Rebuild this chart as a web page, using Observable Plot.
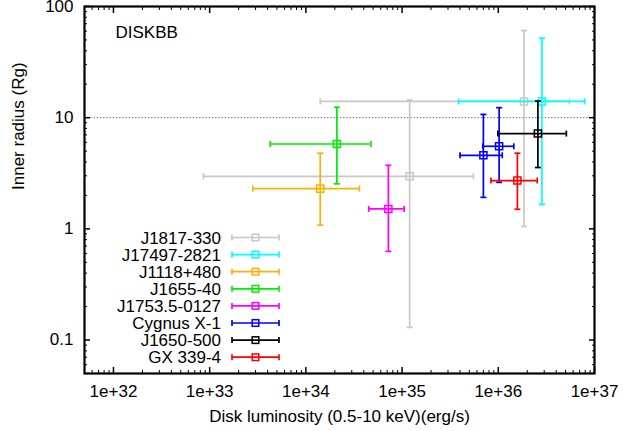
<!DOCTYPE html>
<html><head><meta charset="utf-8">
<script src="https://cdn.jsdelivr.net/npm/d3@7"></script>
<script src="https://cdn.jsdelivr.net/npm/@observablehq/plot@0.6"></script>
<style>
html,body{margin:0;padding:0;background:#fff;}
#chart{position:relative;width:623px;height:431px;font-family:"Liberation Sans",Arial,sans-serif;}
#legend{position:absolute;left:0;top:0;pointer-events:none;}
</style></head><body><div id="chart"></div>
<script>
// ---- data ----
const sources = ["J1817-330","J17497-2821","J1118+480","J1655-40","J1753.5-0127","Cygnus X-1","J1650-500","GX 339-4"];
const colors  = ["#c8c8c8","#00ffff","#ffb000","#00ee00","#ff00ff","#0000ff","#000000","#ff0000"];
const pointSource = ["J1817-330","J1817-330","J17497-2821","J1118+480","J1655-40","J1753.5-0127","Cygnus X-1","Cygnus X-1","J1650-500","GX 339-4"];
const lum   = [1.85e36, 1.2e35, 2.84e36, 1.41e34, 2.1e34, 7.2e34, 7.0e35, 1.02e36, 2.58e36, 1.58e36];
const lumLo = [1.41e34, 8.6e32, 3.86e35, 2.81e33, 4.26e33, 4.5e34, 4.0e35, 6.9e35, 9.9e35, 8.4e35];
const lumHi = [5.5e36, 5.5e35, 7.9e36, 3.6e34, 4.74e34, 1.05e35, 1.1e36, 1.45e36, 5.1e36, 2.54e36];
const rin   = [14.0, 2.97, 14.0, 2.3, 5.8, 1.51, 4.59, 5.53, 7.2, 2.72];
const rinLo = [1.05, 0.13, 1.66, 1.08, 2.54, 0.627, 1.92, 2.62, 3.56, 1.5];
const rinHi = [60.8, 14.4, 52, 4.79, 12.4, 3.73, 10.7, 12.3, 14.1, 4.79];
const xTicks = [1e32, 1e33, 1e34, 1e35, 1e36, 1e37];
const xTickLabels = ["1e+32","1e+33","1e+34","1e+35","1e+36","1e+37"];
const yTicks = [0.1, 1, 10, 100];
const yTickLabels = ["0.1","1","10","100"];
const refLine = [10];
const title = "DISKBB";
const xLabel = "Disk luminosity (0.5-10 keV)(erg/s)";
const yLabel = "Inner radius (Rg)";

// ---- build ----
const xDomain = [5e31, 1e37], yDomain = [0.05, 100];
const minorTicks = (lo, hi, k0, k1) => {
  const out = [];
  for (let k = k0; k <= k1; k++) for (let m = 2; m <= 9; m++) { const v = m * Math.pow(10, k); if (v > lo * 1.0001 && v < hi * 0.9999) out.push(v); }
  return out;
};
const xMinor = minorTicks(xDomain[0], xDomain[1], 31, 36);
const yMinor = minorTicks(yDomain[0], yDomain[1], -2, 1);
const xLabMap = new Map(xTicks.map((t, i) => [t, xTickLabels[i]]));
const yLabMap = new Map(yTicks.map((t, i) => [t, yTickLabels[i]]));

const pts = pointSource.map((s, i) => ({source: s, x: lum[i], xlo: lumLo[i], xhi: lumHi[i], y: rin[i], ylo: rinLo[i], yhi: rinHi[i]}));
const capV = {draw(ctx) { ctx.moveTo(0, -3); ctx.lineTo(0, 3); }};
const capH = {draw(ctx) { ctx.moveTo(-3, 0); ctx.lineTo(3, 0); }};
const lw = 1.7;

const pointMarks = [];
for (const p of pts) {
  const d = [p];
  pointMarks.push(
    Plot.ruleY(d, {y: "y", x1: "xlo", x2: "xhi", stroke: "source", strokeWidth: lw}),
    Plot.ruleX(d, {x: "x", y1: "ylo", y2: "yhi", stroke: "source", strokeWidth: lw}),
    Plot.dot(d, {x: "xlo", y: "y", symbol: capV, r: 3, stroke: "source", fill: "none", strokeWidth: lw}),
    Plot.dot(d, {x: "xhi", y: "y", symbol: capV, r: 3, stroke: "source", fill: "none", strokeWidth: lw}),
    Plot.dot(d, {x: "x", y: "ylo", symbol: capH, r: 3, stroke: "source", fill: "none", strokeWidth: lw}),
    Plot.dot(d, {x: "x", y: "yhi", symbol: capH, r: 3, stroke: "source", fill: "none", strokeWidth: lw}),
    Plot.dot(d, {x: "x", y: "y", symbol: "square", r: 4, stroke: "source", fill: "none", strokeWidth: 1.5})
  );
}

const blank = () => "";
const chart = Plot.plot({
  width: 623, height: 431,
  marginLeft: 84, marginRight: 29, marginTop: 6, marginBottom: 58,
  style: {fontFamily: "'Liberation Sans', Arial, sans-serif", fontSize: "17px", color: "black", background: "white"},
  x: {type: "log", domain: xDomain},
  y: {type: "log", domain: yDomain},
  color: {domain: sources, range: colors},
  marks: [
    Plot.ruleY(refLine, {stroke: "#555", strokeDasharray: "1.2,2", strokeWidth: 1}),
    ...pointMarks,
    // ticks (inward, mirrored)
    Plot.axisX(xTicks, {anchor: "bottom", tickSize: -6, strokeWidth: 1.5, tickFormat: blank, label: null}),
    Plot.axisX(xTicks, {anchor: "top", tickSize: -6, strokeWidth: 1.5, tickFormat: blank, label: null}),
    Plot.axisX(xMinor, {anchor: "bottom", tickSize: -3, tickFormat: blank, label: null}),
    Plot.axisX(xMinor, {anchor: "top", tickSize: -3, tickFormat: blank, label: null}),
    Plot.axisY(yTicks, {anchor: "left", tickSize: -6, strokeWidth: 1.5, tickFormat: blank, label: null}),
    Plot.axisY(yTicks, {anchor: "right", tickSize: -6, strokeWidth: 1.5, tickFormat: blank, label: null}),
    Plot.axisY(yMinor, {anchor: "left", tickSize: -3, tickFormat: blank, label: null}),
    Plot.axisY(yMinor, {anchor: "right", tickSize: -3, tickFormat: blank, label: null}),
    // tick labels
    Plot.axisX(xTicks, {anchor: "bottom", tickSize: 0, tickPadding: 11, tickFormat: d => xLabMap.get(d), label: null}),
    Plot.axisY(yTicks, {anchor: "left", tickSize: 0, tickPadding: 11, tickFormat: d => yLabMap.get(d), label: null}),
    Plot.frame({stroke: "black", strokeWidth: 2.2}),
    Plot.text([title], {frameAnchor: "top-left", dx: 31, dy: 26, textAnchor: "start", lineAnchor: "middle", text: d => d}),
    Plot.text([xLabel], {frameAnchor: "bottom", dy: 43, lineAnchor: "middle", text: d => d}),
    Plot.text([yLabel], {frameAnchor: "left", dx: -66, rotate: -90, lineAnchor: "middle", text: d => d})
  ]
});
const root = document.getElementById("chart");
root.appendChild(chart);

// ---- legend (inside the frame, lower left) ----
const lg = d3.select(root).append("svg").attr("id", "legend").attr("width", 623).attr("height", 431)
  .style("font-family", "'Liberation Sans', Arial, sans-serif").style("font-size", "17px");
const rowY0 = 237.5, rowStep = 17.1, textRight = 221, sx1 = 232, sx2 = 279;
sources.forEach((s, i) => {
  const y = rowY0 + i * rowStep, c = colors[i];
  const g = lg.append("g");
  g.append("text").attr("x", textRight).attr("y", y).attr("dy", "0.36em").attr("text-anchor", "end").attr("fill", "black").text(s);
  g.append("line").attr("x1", sx1).attr("x2", sx2).attr("y1", y).attr("y2", y).attr("stroke", c).attr("stroke-width", 1.7);
  g.append("line").attr("x1", sx1).attr("x2", sx1).attr("y1", y - 3).attr("y2", y + 3).attr("stroke", c).attr("stroke-width", 1.7);
  g.append("line").attr("x1", sx2).attr("x2", sx2).attr("y1", y - 3).attr("y2", y + 3).attr("stroke", c).attr("stroke-width", 1.7);
  g.append("rect").attr("x", (sx1 + sx2) / 2 - 3.3).attr("y", y - 3.3).attr("width", 6.6).attr("height", 6.6).attr("fill", "none").attr("stroke", c).attr("stroke-width", 1.5);
});
</script></body></html>
